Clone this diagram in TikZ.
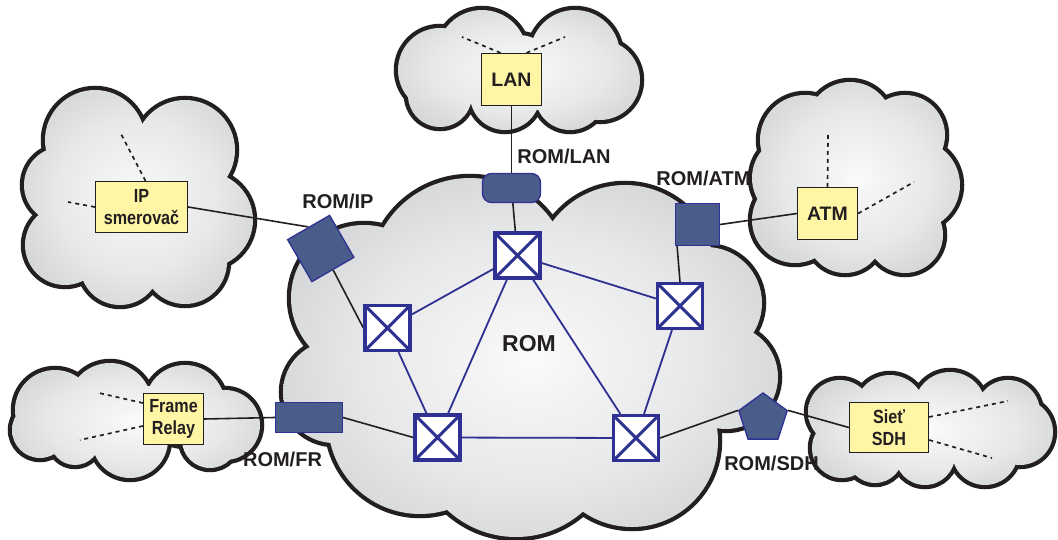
\documentclass[tikz,border=0pt]{standalone}
\usepackage{fontspec}
\setmainfont{Liberation Sans}
\newfontfamily\condfont[FakeStretch=0.85]{Liberation Sans}
\usetikzlibrary{shapes.geometric,calc}
\pgfdeclarelayer{bg}
\pgfdeclarelayer{mid}
\pgfsetlayers{bg,mid,main}
\definecolor{romblue}{HTML}{2E3192}
\definecolor{nodefill}{HTML}{4A5C89}
\definecolor{boxfill}{HTML}{FFF6A5}
\definecolor{txt}{HTML}{231F20}
\definecolor{cloudin}{HTML}{FBFBFB}
\definecolor{cloudlt}{HTML}{F4F4F5}
\definecolor{cloudmid}{HTML}{E7E8E9}
\definecolor{cloudout}{HTML}{D6D7D9}
\definecolor{cloudedge}{HTML}{D2D3D5}
\pgfdeclareradialshading{cloudsh}{\pgfpoint{0bp}{0bp}}{color(0bp)=(cloudin); color(5bp)=(cloudlt); color(16bp)=(cloudmid); color(25bp)=(cloudout); color(50bp)=(cloudedge)}
\tikzset{
  cloudline/.style={draw=txt, line width=8.5pt},
  ybox/.style={draw=txt, fill=boxfill, line width=1.3pt, inner sep=0pt, align=center, text=txt,
    font=\condfont\bfseries\fontsize{19}{22}\selectfont},
  yboxwide/.style={ybox, font=\bfseries\fontsize{19.5}{22}\selectfont},
  romnode/.style={draw=romblue, fill=nodefill, line width=1.3pt, inner sep=0pt},
  switchbox/.style={draw=romblue, fill=white, line width=3.3pt, minimum size=45pt, inner sep=0pt,
    path picture={\draw[romblue, line width=3pt]
      (path picture bounding box.north west) -- (path picture bounding box.south east)
      (path picture bounding box.north east) -- (path picture bounding box.south west);}},
  blink/.style={draw=romblue, line width=1.8pt},
  klink/.style={draw=txt, line width=1.6pt},
  dotl/.style={draw=txt, line width=1.7pt, dash pattern=on 4pt off 4pt},
  lbl/.style={font=\bfseries\fontsize{20}{24}\selectfont, text=txt, inner sep=0pt},
}
\def\cloudROM{364/298/73, 470/278/100, 625/275/90, 706/303/56, 726/377/52, 632/441/86, 516/436/101, 420/422/92, 334/392/51, 530/360/130, 450/330/100, 620/340/100}
\def\cloudIP{95/140/50, 185/150/50, 205/220/48, 185/262/42, 120/265/40, 65/245/40, 62/185/38, 137/200/60}
\def\cloudLAN{440/70/42, 482/55/45, 575/55/45, 600/80/40, 570/95/35, 505/95/35, 440/95/32, 518/75/40}
\def\cloudATM{805/140/45, 850/125/43, 905/135/40, 915/185/45, 905/235/38, 845/235/38, 795/220/43, 795/178/43, 856/180/55}
\def\cloudFR{55/410/40, 110/405/42, 185/405/40, 225/425/35, 210/440/28, 130/440/38, 40/430/28, 75/440/25, 140/420/35}
\def\cloudSDH{840/412/32, 842/448/30, 890/410/35, 950/408/36, 1008/412/32, 1020/432/33, 985/452/33, 925/455/30, 875/455/28, 930/430/40}
\newcommand\mycloud[5]{%
  \draw[cloudline] foreach \x/\y/\r in #1 {(\x,\y) circle (\r pt)};
  \begin{scope}
    \clip foreach \x/\y/\r in #1 {(\x,\y) circle (\r pt)};
    \shade[shading=cloudsh] (#2,#3) rectangle (#4,#5);
  \end{scope}}
\begin{document}
\begin{tikzpicture}[x=1pt,y=-1pt]
\useasboundingbox (0,0) rectangle (1058,540);
% ---------- clouds ----------
\begin{pgfonlayer}{bg}
\mycloud{\cloudROM}{270}{165}{790}{555}
\mycloud{\cloudIP}{12}{75}{262}{316}
\mycloud{\cloudLAN}{384}{0}{654}{138}
\mycloud{\cloudATM}{742}{72}{972}{284}
\mycloud{\cloudFR}{0}{354}{274}{488}
\mycloud{\cloudSDH}{794}{364}{1066}{494}
\end{pgfonlayer}
% ---------- yellow boxes ----------
\node[ybox, minimum width=92pt, minimum height=51pt] (ip) at (141.5,207) {IP\\smerova\v{c}};
\node[yboxwide, minimum width=60pt, minimum height=52pt] (lan) at (511.5,79.5) {LAN};
\node[yboxwide, minimum width=60pt, minimum height=52pt] (atm) at (827.5,213.5) {ATM};
\node[ybox, minimum width=60pt, minimum height=51pt] (fr) at (173.5,419) {Frame\\Relay};
\node[ybox, minimum width=79pt, minimum height=50pt] (sdh) at (889,427.5) {Sie\v{t}\\SDH};
% ---------- ROM border nodes ----------
\node[romnode, rounded corners=9pt, minimum width=58pt, minimum height=29pt] (romlan) at (511.5,188) {};
\node[romnode, minimum size=48.5pt, rotate=30] (romip) at (320.75,248.5) {};
\node[romnode, minimum width=44pt, minimum height=42pt] (romatm) at (697.5,224.5) {};
\node[romnode, minimum width=67pt, minimum height=30pt] (romfr) at (309,417.5) {};
\node[romnode, regular polygon, regular polygon sides=5, minimum size=51pt] (romsdh) at (763,418.5) {};
% ---------- switches ----------
\node[switchbox] (swt) at (517.5,255.5) {};
\node[switchbox] (swl) at (387.5,328) {};
\node[switchbox] (swr) at (680,306) {};
\node[switchbox] (swbl) at (437.5,437.5) {};
\node[switchbox] (swbr) at (636,438) {};
% ---------- labels ----------
\node[lbl] (tromlan) at (564,156) {ROM/LAN};
\node[lbl] (tromatm) at (703.5,178.5) {ROM/ATM};
\node[lbl] (tromip) at (338,201.5) {ROM/IP};
\node[lbl] (tromfr) at (282.5,459.5) {ROM/FR};
\node[lbl] (tromsdh) at (771.5,463.5) {ROM/SDH};
\node[lbl, font=\bfseries\fontsize{23}{26}\selectfont] (trom) at (529,343.5) {ROM};
% ---------- free ends of dotted lines ----------
\coordinate (ipd1) at (120,132);
\coordinate (ipd2) at (68,202);
\coordinate (land1) at (462,37);
\coordinate (land2) at (565,37);
\coordinate (atmd1) at (828,134);
\coordinate (atmd2) at (914,182);
\coordinate (frd1) at (99,393);
\coordinate (frd2) at (80,440);
\coordinate (sdhd1) at (1008,401);
\coordinate (sdhd2) at (992,458);
% ---------- connectors ----------
\begin{pgfonlayer}{mid}
  \draw[dotl] ([xshift=4pt]ip.north) -- (ipd1);
  \draw[dotl] (ip.west) -- (ipd2);
  \draw[dotl] ([xshift=-11pt]lan.north) -- (land1);
  \draw[dotl] ([xshift=15pt]lan.north) -- (land2);
  \draw[dotl] (atm.north) -- (atmd1);
  \draw[dotl] (atm.east) -- (atmd2);
  \draw[dotl] ([yshift=16pt]fr.west) -- (frd1);
  \draw[dotl] ([yshift=-7pt]fr.west) -- (frd2);
  \draw[dotl] ([yshift=10.5pt]sdh.east) -- (sdhd1);
  \draw[dotl] ([yshift=-12.5pt]sdh.east) -- (sdhd2);
  \draw[klink] (lan.south) -- (romlan.north);
  \draw[klink] (romlan) -- (swt);
  \draw[klink] (ip.east) -- (romip.north);
  \draw[klink] (romip.south) -- (swl.west);
  \draw[klink] (romatm.east) -- (atm.west);
  \draw[klink] ($(romatm.south west)!0.05!(romatm.south east)$) -- (swr.north);
  \draw[klink] (fr.east) -- (romfr.west);
  \draw[klink] (romfr.east) -- (swbl.west);
  \draw[klink] (swbr.east) -- (romsdh.corner 2);
  \draw[klink] (romsdh.corner 5) -- (sdh.west);
  \draw[blink] (swt) -- (swl);
  \draw[blink] (swt) -- (swr);
  \draw[blink] (swt) -- (swbl);
  \draw[blink] (swt) -- (swbr);
  \draw[blink] (swl) -- (swbl);
  \draw[blink] (swr) -- (swbr);
  \draw[blink] (swbl) -- (swbr);
\end{pgfonlayer}
\end{tikzpicture}
\end{document}
